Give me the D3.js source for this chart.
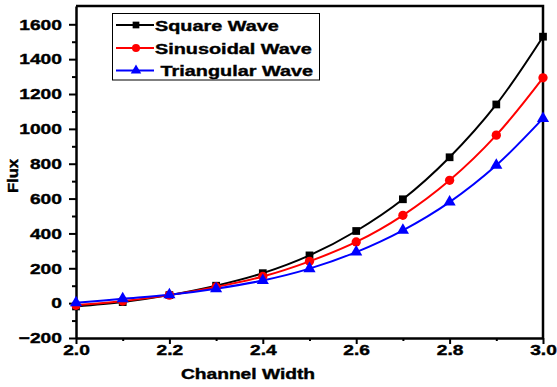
<!DOCTYPE html>
<html>
<head>
<meta charset="utf-8">
<script src="https://cdn.jsdelivr.net/npm/d3@7"></script>
<style>
  html, body { margin: 0; padding: 0; background: #fff; }
  svg { display: block; font-family: "Liberation Sans", Arial, sans-serif; font-weight: bold; }
  .heavy { stroke: #000; stroke-width: 0.4px; paint-order: stroke; }
</style>
</head>
<body>
<svg id="chart" width="557" height="387"></svg>
<script>
// Channel width values (x) and flux for each excitation waveform
const channelWidth = [2.0, 2.1, 2.2, 2.3, 2.4, 2.5, 2.6, 2.7, 2.8, 2.9, 3.0];
const squareFlux   = [-19, 6, 46, 100, 172, 274, 414, 596, 837, 1140, 1529];
const sineFlux     = [-12, 12, 46, 93, 153, 240, 351, 504, 705, 964, 1293];
const triFlux      = [2, 25, 48, 83, 130, 198, 293, 418, 580, 791, 1060];
const seriesNames  = ["Square Wave", "Sinusoidal Wave", " Triangular Wave"];
const seriesColors = ["#000000", "#ff0000", "#0000ff"];
const seriesShapes = [d3.symbolSquare, d3.symbolCircle, d3.symbolTriangle];
const xTicks = [2.0, 2.2, 2.4, 2.6, 2.8, 3.0];
const yTicks = [-200, 0, 200, 400, 600, 800, 1000, 1200, 1400, 1600];

const svg = d3.select("#chart");
const m = { left: 76, right: 543, top: 6, bottom: 338 };
const WIDE = 1.28; // horizontal stretch of the bold labels

const x = d3.scaleLinear().domain([2.0, 3.0]).range([m.left, m.right]);
const y = d3.scaleLinear().domain([-200, 1705]).range([m.bottom, m.top]);

// Minor ticks
const xMinor = d3.range(2.1, 3.0, 0.2);
const yMinor = d3.range(-100, 1700, 200);

const gx = svg.append("g").attr("transform", `translate(0,${m.bottom})`);
gx.call(d3.axisBottom(x).tickValues(xTicks).tickFormat(d3.format(".1f")).tickSize(6).tickSizeOuter(0));
gx.append("g").call(d3.axisBottom(x).tickValues(xMinor).tickFormat("").tickSize(3).tickSizeOuter(0))
  .select(".domain").remove();

const gy = svg.append("g").attr("transform", `translate(${m.left},0)`);
gy.call(d3.axisLeft(y).tickValues(yTicks).tickFormat(d3.format("d")).tickSize(7).tickSizeOuter(0));
gy.append("g").call(d3.axisLeft(y).tickValues(yMinor).tickFormat("").tickSize(4).tickSizeOuter(0))
  .select(".domain").remove();

svg.selectAll(".tick line").attr("stroke", "#000").attr("stroke-width", 2);
svg.selectAll(".domain").attr("stroke", "#000").attr("stroke-width", 2.5);
gx.selectAll(".tick text").attr("class", "heavy").attr("font-size", 15).attr("font-weight", "bold").attr("fill", "#000")
  .attr("dy", "0.72em").attr("y", 6).attr("transform", `scale(${WIDE},1)`);
gy.selectAll(".tick text").attr("class", "heavy").attr("font-size", 15).attr("font-weight", "bold").attr("fill", "#000")
  .attr("x", -11).attr("transform", `scale(${WIDE},1)`);

// Top and right frame
svg.append("path")
  .attr("d", `M${m.left},${m.top}H${m.right}V${m.bottom}`)
  .attr("fill", "none").attr("stroke", "#000").attr("stroke-width", 2.5);

// Axis titles
svg.append("text").attr("class", "heavy").attr("transform", `translate(248,379) scale(${WIDE},1)`)
  .attr("text-anchor", "middle").attr("font-size", 15).text("Channel Width");
svg.append("text").attr("class", "heavy").attr("transform", "translate(18,176) rotate(-90) scale(1.15,1)")
  .attr("text-anchor", "middle").attr("font-size", 14.5).text("Flux");

// Series
const allSeries = [squareFlux, sineFlux, triFlux];
const line = d3.line().x((d, i) => x(channelWidth[i])).y(d => y(d)).curve(d3.curveCatmullRom.alpha(0.5));

const plot = svg.append("g");
allSeries.forEach((vals, s) => {
  plot.append("path").datum(vals).attr("d", line)
    .attr("fill", "none").attr("stroke", seriesColors[s]).attr("stroke-width", 2);
});
const symSizes = [60, 68, 64];
allSeries.forEach((vals, s) => {
  plot.selectAll(null).data(vals).join("path")
    .attr("transform", (d, i) => `translate(${x(channelWidth[i])},${y(d)})`)
    .attr("d", d3.symbol().type(seriesShapes[s]).size(symSizes[s]))
    .attr("fill", seriesColors[s]);
});

// Legend
const lg = svg.append("g");
lg.append("rect").attr("x", 112.5).attr("y", 13.5).attr("width", 207).attr("height", 66.5)
  .attr("fill", "#fff").attr("stroke", "#000").attr("stroke-width", 1);
const rowY = [25, 48, 70.5];
seriesNames.forEach((name, s) => {
  lg.append("line").attr("x1", 116).attr("x2", 154).attr("y1", rowY[s]).attr("y2", rowY[s])
    .attr("stroke", seriesColors[s]).attr("stroke-width", 2);
  lg.append("path").attr("transform", `translate(136,${rowY[s]})`)
    .attr("d", d3.symbol().type(seriesShapes[s]).size(symSizes[s] * 0.75)).attr("fill", seriesColors[s]);
  lg.append("text").attr("class", "heavy").attr("transform", `translate(155,${rowY[s]}) scale(${WIDE},1)`).attr("dy", "0.36em")
    .attr("font-size", 15.5).attr("xml:space", "preserve").style("white-space", "pre").text(name);
});
</script>
</body>
</html>
